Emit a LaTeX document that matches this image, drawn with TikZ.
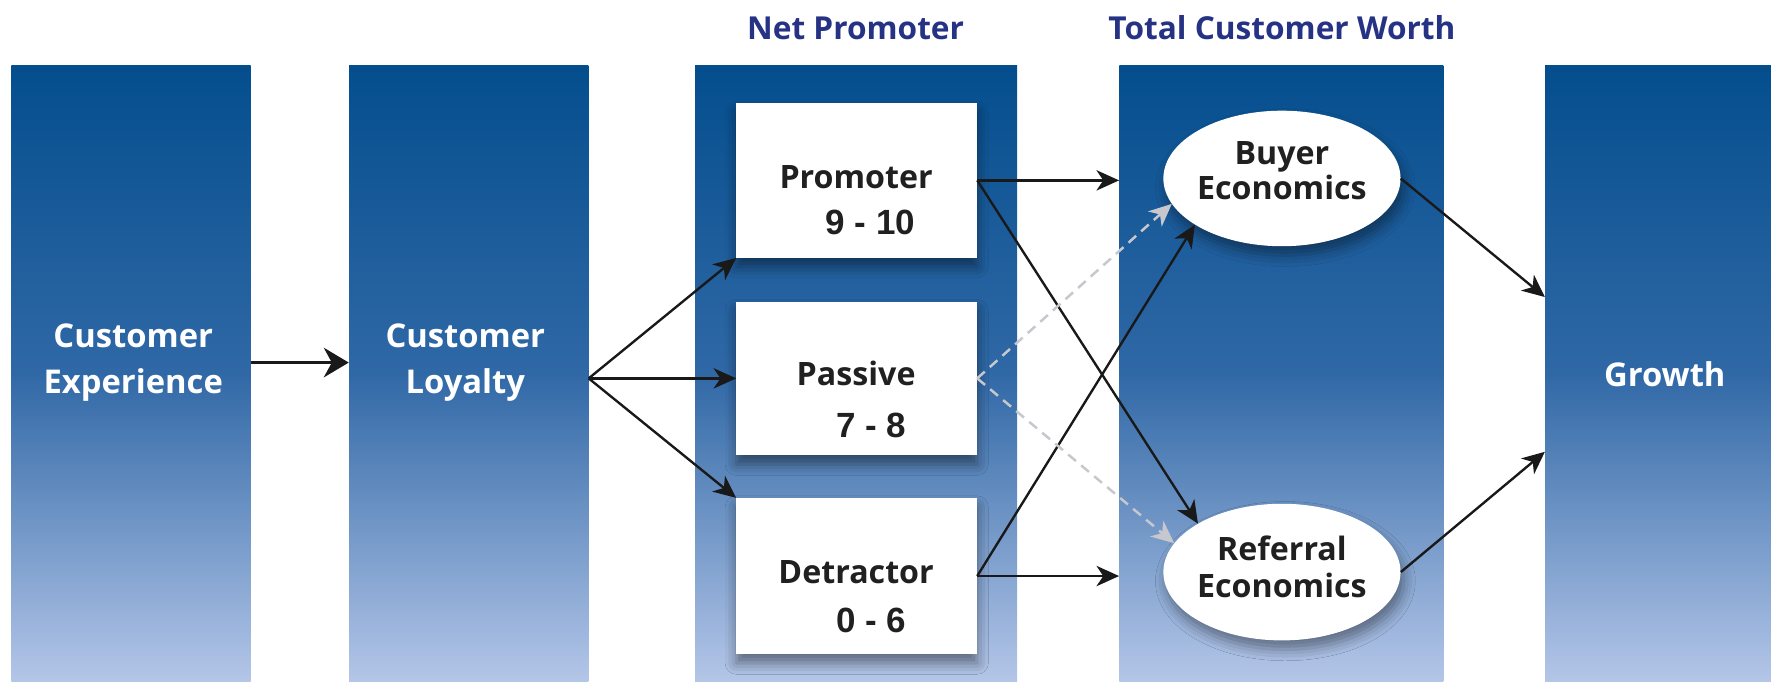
\documentclass[tikz,border=0pt]{standalone}
\usepackage{fontspec}
\usetikzlibrary{arrows.meta,shapes.geometric,shadows.blur}
\newfontfamily\labfont{Open Sans}
\newfontfamily\numfont{Liberation Sans}
\definecolor{coltop}{RGB}{4,78,142}
\definecolor{colmid}{RGB}{48,104,166}
\definecolor{colbot}{RGB}{180,198,232}
\definecolor{navy}{RGB}{38,50,132}
\definecolor{ink}{RGB}{32,32,32}
\definecolor{dashgray}{RGB}{198,200,206}
\begin{document}
\begin{tikzpicture}[x=1pt,y=-1pt,
  col/.style={rectangle, inner sep=0pt, draw=none, top color=coltop, bottom color=colbot, middle color=colmid},
  wbox/.style={rectangle, fill=white, inner sep=0pt, minimum width=213pt,
    blur shadow={shadow xshift=0pt, shadow yshift=-8pt, shadow blur radius=10pt, shadow opacity=45}},
  well/.style={ellipse, fill=white, inner sep=0pt, minimum width=210pt,
    blur shadow={shadow xshift=3pt, shadow yshift=-8pt, shadow blur radius=10pt, shadow opacity=40}},
  lab/.style={font=\labfont\bfseries\fontsize{29}{34}\selectfont, text=white, anchor=base, inner sep=0pt},
  ttl/.style={font=\labfont\bfseries\fontsize{28}{32}\selectfont, text=navy, anchor=base, inner sep=0pt},
  btxt/.style={font=\labfont\bfseries\fontsize{28.5}{32}\selectfont, text=ink, anchor=base, inner sep=0pt},
  ntxt/.style={font=\numfont\bfseries\fontsize{31}{34}\selectfont, text=ink, anchor=base, inner sep=0pt},
  arr/.style={draw=black!90, line width=2.1pt, -{Stealth[length=20pt, width=18pt, inset=6pt]}},
  bigarr/.style={draw=black!90, line width=3.4pt, -{Stealth[length=22pt, width=26pt, inset=7pt]}},
  darr/.style={draw=dashgray, line width=2.2pt, dash pattern=on 9pt off 6pt,
    -{Stealth[length=20pt, width=18pt, inset=6pt]}}]
\useasboundingbox (0,0) rectangle (1568,603);
\fill[white] (0,0) rectangle (1568,603);

% columns
\node[col, minimum width=212pt, minimum height=545pt] (ce) at (116,330.5) {};
\node[col, minimum width=212pt, minimum height=545pt] (cl) at (415,330.5) {};
\node[col, minimum width=285pt, minimum height=545pt] (np) at (758,330.5) {};
\node[col, minimum width=287pt, minimum height=545pt] (tcw) at (1134.5,330.5) {};
\node[col, minimum width=200pt, minimum height=545pt] (gr) at (1468,330.5) {};

% titles
\node[ttl] (tnp) at (757.5,34.6) {Net Promoter};
\node[ttl] (ttcw) at (1135,34.6) {Total Customer Worth};

% column labels
\node[lab] (ce1) at (118,307.6) {Customer};
\node[lab] (ce2) at (118,348) {Experience};
\node[lab] (cl1) at (412,307.6) {Customer};
\node[lab] (cl2) at (412,348) {Loyalty};
\node[lab] (gr1) at (1474,342) {Growth};

% white boxes
\node[wbox, minimum height=137pt] (prom) at (758.5,159.7) {};
\node[wbox, minimum height=136pt] (pas) at (758.5,335) {};
\node[wbox, minimum height=138pt] (det) at (758.5,510) {};
\node[btxt] (promt) at (758,167) {Promoter};
\node[ntxt] (promn) at (770.5,207.6) {9 - 10};
\node[btxt] (past) at (758,341.5) {Passive};
\node[ntxt] (pasn) at (771.5,387.6) {7 - 8};
\node[btxt] (dett) at (758,517) {Detractor};
\node[ntxt] (detn) at (771.5,559.6) {0 - 6};

% ellipses
\node[well, minimum height=120pt] (buy) at (1135,158) {};
\node[well, minimum height=121pt] (ref) at (1135,506.5) {};
\node[btxt] (buy1) at (1135,145.3) {Buyer};
\node[btxt] (buy2) at (1135,177) {Economics};
\node[btxt] (ref1) at (1135,496) {Referral};
\node[btxt] (ref2) at (1135,528.7) {Economics};

% connectors
\draw[bigarr] (ce.east |- 0,321) -- (cl.west |- 0,321);
\coordinate (fan) at (cl.east |- pas.west);
\draw[arr] (fan) -- (prom.south west);
\draw[arr] (fan) -- (pas.west);
\draw[arr] (fan) -- (det.north west);
\draw[arr] (prom.east) -- (prom.east -| tcw.west);
\draw[arr] (prom.east) -- (ref.150);
\draw[arr] (det.east) -- (det.east -| tcw.west);
\draw[arr] (det.east) -- (buy.208);
\draw[darr] (pas.east) -- (buy.193);
\draw[darr] (pas.east) -- (ref.165);
\coordinate (g1) at (gr.west |- 0,263);
\coordinate (g2) at (gr.west |- 0,400);
\draw[arr] (buy.east) -- (g1);
\draw[arr] (ref.east) -- (g2);
\end{tikzpicture}
\end{document}
